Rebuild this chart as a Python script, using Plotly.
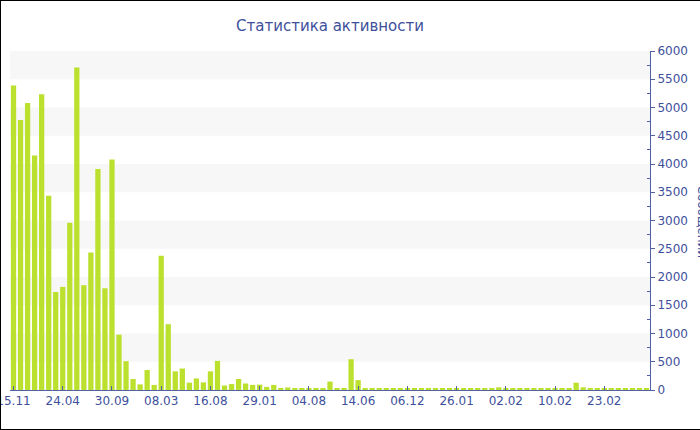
import plotly.graph_objects as go

# ---- data ----
values = [5390, 4780, 5080, 4150, 5235, 3440, 1735, 1825, 2960, 5710,
          1855, 2435, 3910, 1800, 4080, 980, 510, 195, 100, 355,
          90, 2375, 1165, 330, 380, 130, 205, 135, 330, 515,
          80, 105, 195, 115, 90, 95, 55, 90, 35, 45,
          30, 30, 25, 25, 25, 150, 18, 18, 545, 175,
          35, 30, 28, 25, 25, 25, 22, 22, 22, 22,
          20, 20, 20, 20, 20, 20, 22, 22, 25, 47,
          22, 20, 22, 30, 25, 22, 22, 22, 25, 22,
          130, 47, 22, 35, 22, 20, 20, 20, 20, 22,
          35]
bar_index = list(range(len(values)))
tick_positions = [0, 7, 14, 21, 28, 35, 42, 49, 56, 63, 70, 77, 84]
tick_labels = ["15.11", "24.04", "30.09", "08.03", "16.08", "29.01", "04.08",
               "14.06", "06.12", "26.01", "02.02", "10.02", "23.02"]
y_ticks = list(range(0, 6001, 500))

title_text = "Статистика активности"
axis_title = "Сообщений"

TXT = "rgb(62,80,155)"
AX = "rgb(78,98,165)"
BAR = "rgb(187,224,46)"

W, H = 700, 430
ML, MR, MT, MB = 10, 50, 51, 40
PW = W - ML - MR
PH = H - MT - MB

fig = go.Figure(go.Bar(
    x=bar_index, y=values,
    marker=dict(color=BAR, line=dict(width=0)),
    hoverinfo="y",
))

shapes = []
# alternating light bands
for lo in y_ticks[1:-1:2]:
    shapes.append(dict(type="rect", xref="paper", yref="y", x0=0, x1=1,
                       y0=lo, y1=lo + 500, fillcolor="#f7f7f7",
                       line=dict(width=0), layer="below"))

def px2x(p):
    return (p - ML) / PW

def px2y(p):
    return (H - MB - p) / PH

# black frame (left, top, bottom visible)
shapes.append(dict(type="line", xref="paper", yref="paper",
                   x0=px2x(0.5), x1=px2x(0.5), y0=px2y(0), y1=px2y(430),
                   line=dict(color="black", width=1)))
shapes.append(dict(type="line", xref="paper", yref="paper",
                   x0=px2x(0), x1=px2x(700), y0=px2y(0.5), y1=px2y(0.5),
                   line=dict(color="black", width=1)))
shapes.append(dict(type="line", xref="paper", yref="paper",
                   x0=px2x(0), x1=px2x(700), y0=px2y(429.5), y1=px2y(429.5),
                   line=dict(color="black", width=1)))

fig.update_layout(
    width=W, height=H,
    margin=dict(l=ML, r=MR, t=MT, b=MB, pad=0, autoexpand=False),
    paper_bgcolor="white", plot_bgcolor="white",
    bargap=0.25,
    showlegend=False,
    font=dict(family="DejaVu Sans, Verdana, sans-serif", size=12, color=TXT),
    title=dict(text=title_text, x=0.5, xref="paper", y=1 - 26 / H, yanchor="middle",
               font=dict(family="DejaVu Sans, sans-serif", size=15, color=TXT)),
    shapes=shapes,
    annotations=[dict(text=axis_title, textangle=90, xref="paper", yref="paper",
                      x=px2x(701.5), y=px2y(222), showarrow=False,
                      xanchor="center", yanchor="middle",
                      font=dict(size=12, color=TXT))],
    xaxis=dict(range=[-0.5, len(values) - 0.5], tickmode="array",
               tickvals=tick_positions, ticktext=tick_labels,
               showgrid=False, zeroline=False, showline=True, linecolor=AX,
               linewidth=1, ticks="inside", ticklen=4, tickcolor=AX,
               ticklabeloverflow="allow", automargin=False,
               tickfont=dict(size=12, color=TXT), fixedrange=True),
    yaxis=dict(side="right", range=[0, 6000], tickmode="array", tickvals=y_ticks,
               showgrid=False, zeroline=False, showline=True, linecolor=AX,
               linewidth=1, ticks="outside", ticklen=4, tickcolor=AX,
               automargin=False, ticklabeloverflow="allow",
               tickfont=dict(size=12, color=TXT),
               minor=dict(tickmode="array", tickvals=[v + 250 for v in y_ticks[:-1]],
                          ticks="inside", ticklen=3, tickcolor=AX),
               fixedrange=True),
)

fig.write_html(
    "out.html",
    config={"displayModeBar": False},
    post_script="document.body.style.margin='0';document.body.style.overflow='hidden';",
)
